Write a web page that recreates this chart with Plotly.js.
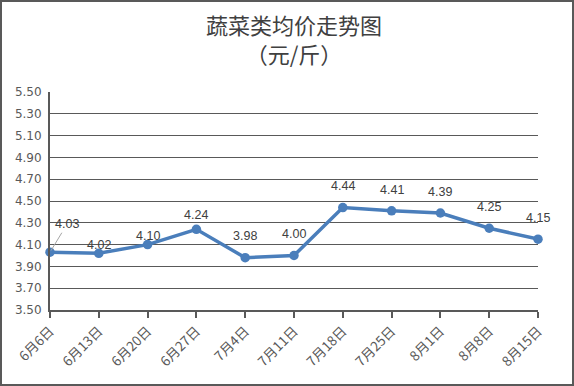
<!DOCTYPE html>
<html><head><meta charset="utf-8">
<script src="https://cdn.plot.ly/plotly-3.0.1.min.js"></script>
<style>
html,body{margin:0;padding:0;background:#fff;}
#chart{width:574px;height:386px;box-sizing:border-box;border:2px solid #595959;}
</style></head>
<body><div id="chart"></div>
<script>
const categories = ['6月6日','6月13日','6月20日','6月27日','7月4日','7月11日','7月18日','7月25日','8月1日','8月8日','8月15日'];
const prices = [4.03,4.02,4.10,4.24,3.98,4.00,4.44,4.41,4.39,4.25,4.15];
const yTicks = [3.50,3.70,3.90,4.10,4.30,4.50,4.70,4.90,5.10,5.30,5.50];
const titleLines = ['蔬菜类均价走势图','（元/斤）'];

// label placement (style only)
const labelShift = [0,8,9,14,22,22,22,21,21,21,21];

const labelFont = {family:'Liberation Sans, Arial, sans-serif', size:12.5, color:'#404040'};
const annotations = prices.map((v,i)=>{
  if(i===0){
    return {x:categories[i], y:v, xref:'x', yref:'y', text:v.toFixed(2), showarrow:true,
      arrowhead:0, arrowwidth:1, arrowcolor:'#A6A6A6', ax:17, ay:-28, standoff:2, font:labelFont};
  }
  return {x:categories[i], y:v, xref:'x', yref:'y', text:v.toFixed(2), showarrow:false,
    yshift:labelShift[i], font:labelFont};
});
annotations.push({text:titleLines.join('<br>'), xref:'paper', yref:'paper', x:0.5, y:1,
  xanchor:'center', yanchor:'middle', yshift:54, showarrow:false,
  font:{family:'Noto Sans CJK SC, sans-serif', size:22, color:'#404040'}});

const trace = {
  x: categories, y: prices, type:'scatter', mode:'lines+markers',
  line:{color:'#4A7EBB', width:3.5},
  marker:{color:'#4A7EBB', size:9.5},
  cliponaxis:false, hoverinfo:'none'
};

const layout = {
  width:570, height:382,
  margin:{l:48, r:34, t:90, b:74},
  paper_bgcolor:'#fff', plot_bgcolor:'#fff',
  showlegend:false,
  xaxis:{type:'category', range:[0,10], showgrid:false, showline:true, linecolor:'#595959', linewidth:2,
    ticks:'outside', ticklen:6, tickwidth:2, tickcolor:'#595959', tickangle:-45,
    tickfont:{family:'Noto Sans CJK SC, sans-serif', size:13.5, color:'#595959'}, zeroline:false},
  yaxis:{range:[3.5,5.5], tickvals:yTicks, ticktext:yTicks.map(v=>v.toFixed(2)),
    showgrid:true, gridcolor:'#595959', gridwidth:1, showline:true, linecolor:'#595959', linewidth:2,
    ticks:'', tickfont:{family:'DejaVu Sans, sans-serif', size:12, color:'#595959'}, zeroline:false,
    ticklabelstandoff:4},
  annotations: annotations
};

Plotly.newPlot('chart',[trace],layout,{displayModeBar:false,staticPlot:true});
</script></body></html>
